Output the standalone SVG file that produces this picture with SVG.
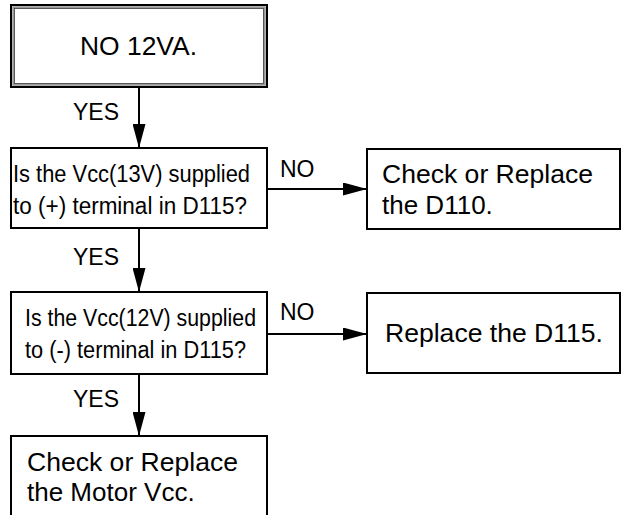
<svg xmlns="http://www.w3.org/2000/svg" width="622" height="515" viewBox="0 0 622 515">
<defs>
<marker id="ahv" markerWidth="24" markerHeight="13" refX="24" refY="6.5" orient="auto" markerUnits="userSpaceOnUse">
<path d="M0,0 L24,6.5 L0,13 Z" fill="#000"/>
</marker>
</defs>
<style>
.box{fill:#fff;stroke:#000;stroke-width:2}
.t{font-family:"Liberation Sans",Arial,sans-serif;font-size:26px;fill:#000}
.q{font-family:"Liberation Sans",Arial,sans-serif;font-size:23px;fill:#000}
.lbl{font-family:"Liberation Sans",Arial,sans-serif;font-size:23px;fill:#000}
.ln{stroke:#000;stroke-width:2;fill:none}
</style>
<rect width="622" height="515" fill="#fff"/>
<g id="start">
<rect x="11" y="5" width="256" height="82" fill="#fff" stroke="#000" stroke-width="2"/>
<rect x="13.5" y="7.5" width="251" height="77" fill="none" stroke="#999" stroke-width="2.5"/>
<rect x="14.5" y="8.5" width="249" height="75" fill="none" stroke="#444" stroke-width="0.8"/>
<text class="t" x="80" y="55" textLength="117" lengthAdjust="spacingAndGlyphs">NO 12VA.</text>
</g>
<g id="q1">
<rect class="box" x="11" y="148" width="256" height="80"/>
<text class="q" x="13" y="182" textLength="237" lengthAdjust="spacingAndGlyphs">Is the Vcc(13V) supplied</text>
<text class="q" x="13" y="214" textLength="234" lengthAdjust="spacingAndGlyphs">to (+) terminal in D115?</text>
</g>
<g id="a1">
<rect class="box" x="367" y="149" width="253" height="80"/>
<text class="t" x="382" y="183" textLength="211" lengthAdjust="spacingAndGlyphs">Check or Replace</text>
<text class="t" x="382" y="214">the D110.</text>
</g>
<g id="q2">
<rect class="box" x="11" y="292" width="256" height="82"/>
<text class="q" x="25" y="326" textLength="231" lengthAdjust="spacingAndGlyphs">Is the Vcc(12V) supplied</text>
<text class="q" x="25" y="358" textLength="221" lengthAdjust="spacingAndGlyphs">to (-) terminal in D115?</text>
</g>
<g id="a2">
<rect class="box" x="367" y="293" width="253" height="80"/>
<text class="t" x="385" y="342" textLength="218" lengthAdjust="spacingAndGlyphs">Replace the D115.</text>
</g>
<g id="end">
<rect class="box" x="11" y="436" width="256" height="90"/>
<text class="t" x="27" y="471" textLength="211" lengthAdjust="spacingAndGlyphs">Check or Replace</text>
<text class="t" x="27" y="501">the Motor Vcc.</text>
</g>
<g id="connectors">
<line class="ln" x1="139" y1="87" x2="139" y2="148" marker-end="url(#ahv)"/>
<line class="ln" x1="139" y1="228" x2="139" y2="292" marker-end="url(#ahv)"/>
<line class="ln" x1="139" y1="374" x2="139" y2="436" marker-end="url(#ahv)"/>
<line class="ln" x1="267" y1="189" x2="367" y2="189" marker-end="url(#ahv)"/>
<line class="ln" x1="267" y1="334" x2="367" y2="334" marker-end="url(#ahv)"/>
<text class="lbl" x="73" y="120">YES</text>
<text class="lbl" x="73" y="265">YES</text>
<text class="lbl" x="73" y="407">YES</text>
<text class="lbl" x="280" y="177">NO</text>
<text class="lbl" x="280" y="320">NO</text>
</g>
</svg>
